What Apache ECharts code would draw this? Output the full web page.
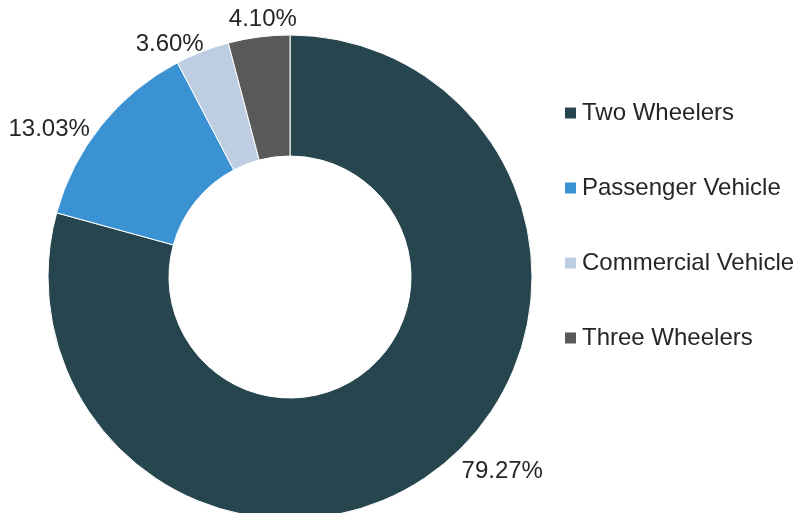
<!DOCTYPE html>
<html>
<head>
<meta charset="utf-8">
<script src="https://cdn.jsdelivr.net/npm/echarts@6/dist/echarts.min.js"></script>
<style>
html,body{margin:0;padding:0;background:#fff;}
#chart{width:797px;height:513px;}
</style>
</head>
<body>
<div id="chart"></div>
<script>
const categories = ['Two Wheelers', 'Passenger Vehicle', 'Commercial Vehicle', 'Three Wheelers'];
const shares = [79.27, 13.03, 3.60, 4.10];
const colors = ['#27454f', '#3a92d2', '#bdcee3', '#595959'];
// label nudges (style only) to mimic the original label placement
const labelNudge = [[15, -4], [-5, 9], [30, -11], [44, -10]];

const chart = echarts.init(document.getElementById('chart'));
const data = categories.map((c, i) => ({ name: c, value: shares[i], itemStyle: { color: colors[i] } }));
const FONT = 'Liberation Sans, Arial, sans-serif';

chart.setOption({
  animation: false,
  legend: {
    orient: 'vertical',
    left: 558,
    top: 96,
    itemWidth: 13,
    itemHeight: 13,
    itemGap: 51,
    icon: 'rect',
    textStyle: { fontFamily: FONT, fontSize: 24, color: '#262626' },
    data: categories
  },
  series: [{
    type: 'pie',
    center: [290, 277],
    radius: [121, 242],
    startAngle: 90,
    clockwise: true,
    itemStyle: { borderColor: '#ffffff', borderWidth: 1 },
    label: {
      show: true,
      position: 'outside',
      formatter: p => p.value.toFixed(2) + '%',
      fontFamily: FONT,
      fontSize: 24,
      color: '#262626'
    },
    labelLine: { show: false, length: 8, length2: 0 },
    labelLayout: p => ({ dx: labelNudge[p.dataIndex][0], dy: labelNudge[p.dataIndex][1] }),
    emphasis: { disabled: true },
    data: data
  }]
});
</script>
</body>
</html>
